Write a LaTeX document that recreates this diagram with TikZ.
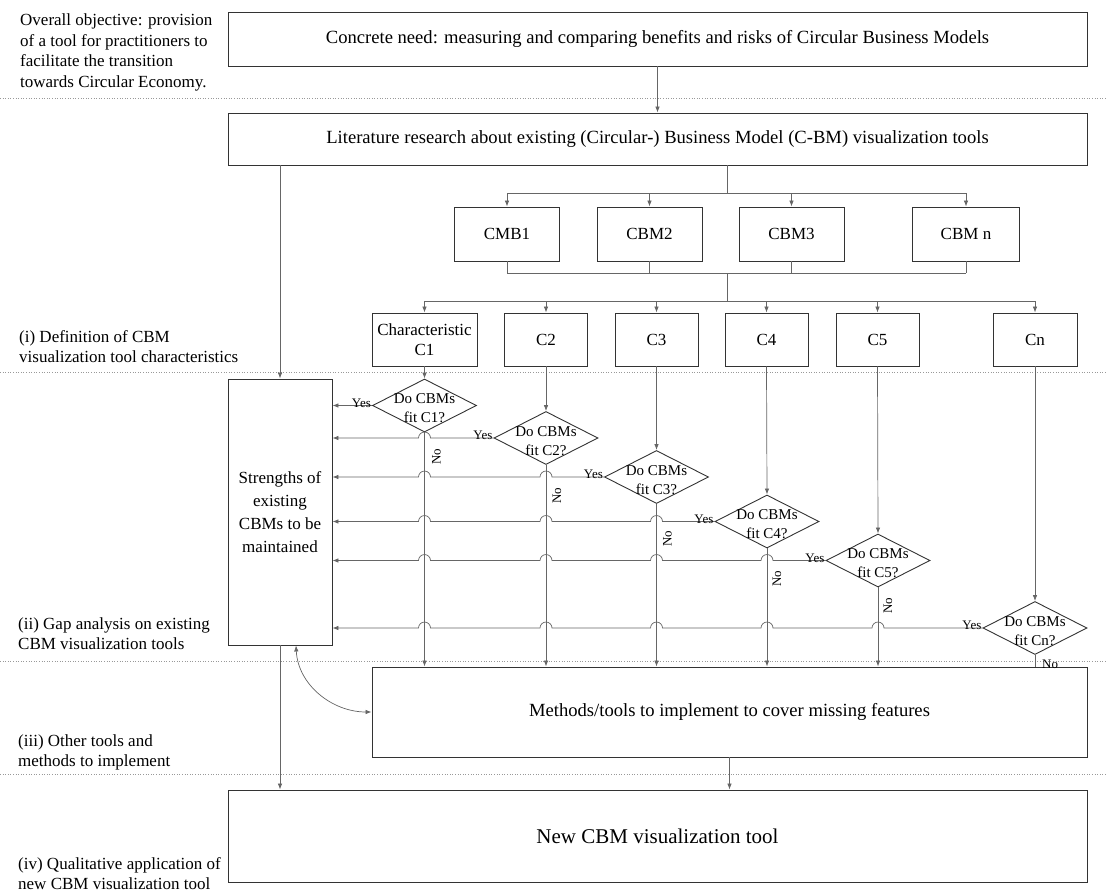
\documentclass[tikz,border=0pt]{standalone}
\usepackage{fontspec}
\setmainfont{Liberation Serif}
\usetikzlibrary{arrows.meta,shapes.geometric,calc}
\begin{document}
\begin{tikzpicture}[x=1pt,y=-1pt,
  box/.style={draw=black!80, line width=0.9pt, rectangle, inner sep=0pt,
    font=\fontsize{17}{20.5}\selectfont, align=center},
  bigtext/.style={font=\fontsize{18.6}{22}\selectfont},
  dia/.style={draw=black!80, line width=0.9pt, diamond, minimum width=104pt,
    minimum height=53pt, inner sep=0pt},
  dtext/.style={font=\fontsize{15}{19}\selectfont, align=center, inner sep=0pt},
  lbl/.style={font=\fontsize{13}{15}\selectfont, inner sep=0pt},
  note/.style={font=\fontsize{17}{20.5}\selectfont, align=left, anchor=north west, inner sep=0pt},
  con/.style={draw=black!60, line width=0.7pt},
  arr/.style={con, -{Latex[length=6pt,width=4.5pt]}},
  sep/.style={draw=black!40, dotted, line width=0.6pt}
]
\useasboundingbox (0,0) rectangle (1106,894);

% separators
\draw[sep] (0,98) -- (1106,98);
\draw[sep] (0,372) -- (1106,372);
\draw[sep] (0,661) -- (1106,661);
\draw[sep] (0,774) -- (1106,774);

% left notes
\node[note] (n0) at (20,14) {Overall objective: provision\\of a tool for practitioners to\\facilitate the transition\\towards Circular Economy.};
\node[note] (n1) at (19,330) {(i) Definition of CBM\\visualization tool characteristics};
\node[note] (n2) at (18,617) {(ii) Gap analysis on existing\\CBM visualization tools};
\node[note] (n3) at (18,734) {(iii) Other tools and\\methods to implement};
\node[note] (n4) at (18,857) {(iv) Qualitative application of\\new CBM visualization tool};

% main boxes
\node[box, bigtext, minimum width=859, minimum height=54] (need) at (657.5,39) {Concrete need: measuring and comparing benefits and risks of Circular Business Models};
\node[box, bigtext, minimum width=859, minimum height=52] (lit) at (657.5,139) {Literature research about existing (Circular-) Business Model (C-BM) visualization tools};

\node[box, minimum width=105, minimum height=54] (cbm1) at (507,234) {CMB1};
\node[box, minimum width=105, minimum height=54] (cbm2) at (649.5,234) {CBM2};
\node[box, minimum width=105, minimum height=54] (cbm3) at (791.5,234) {CBM3};
\node[box, minimum width=107, minimum height=54] (cbmn) at (966,234) {CBM n};

\node[box, minimum width=105, minimum height=53] (c1) at (424.5,339.5) {Characteristic\\C1};
\node[box, minimum width=83, minimum height=53] (c2) at (546,339.5) {C2};
\node[box, minimum width=83, minimum height=53] (c3) at (656.5,339.5) {C3};
\node[box, minimum width=83, minimum height=53] (c4) at (766.5,339.5) {C4};
\node[box, minimum width=83, minimum height=53] (c5) at (877.5,339.5) {C5};
\node[box, minimum width=84, minimum height=53] (cn) at (1035,339.5) {Cn};

\node[box, minimum width=104, minimum height=266, font=\fontsize{17}{23}\selectfont] (s) at (280,512) {Strengths of\\existing\\CBMs to be\\maintained};
\node[box, bigtext, minimum width=715, minimum height=90] (meth) at (729.5,712) {Methods/tools to implement to cover missing features};
\node[box, font=\fontsize{21}{24}\selectfont, minimum width=859, minimum height=92] (new) at (657.5,836) {New CBM visualization tool};

% diamonds
\node[dia] (d1) at (424.5,405.5) {};
\node[dia] (d2) at (546,438) {};
\node[dia] (d3) at (656.5,477) {};
\node[dia] (d4) at (767,521.5) {};
\node[dia] (d5) at (878,560.5) {};
\node[dia] (dn) at (1035,628) {};
\node[dtext] (t1) at ($(d1)+(0,3)$) {Do CBMs\\fit C1?};
\node[dtext] (t2) at ($(d2)+(0,3)$) {Do CBMs\\fit C2?};
\node[dtext] (t3) at ($(d3)+(0,3)$) {Do CBMs\\fit C3?};
\node[dtext] (t4) at ($(d4)+(0,3)$) {Do CBMs\\fit C4?};
\node[dtext] (t5) at ($(d5)+(0,3)$) {Do CBMs\\fit C5?};
\node[dtext] (tn) at ($(dn)+(0,3)$) {Do CBMs\\fit Cn?};

% top connectors
\draw[arr] (need.south) -- (lit.north);
\coordinate (b1) at (727,193);
\coordinate (b2) at (727,273);
\coordinate (b3) at (727,301);
\draw[con] (lit.south -| b1) -- (b1);
\draw[con] (cbm1.north |- b1) -- (cbmn.north |- b1);
\foreach \n in {cbm1,cbm2,cbm3,cbmn} {
  \draw[arr] (\n.north |- b1) -- (\n.north);
  \draw[con] (\n.south) -- (\n.south |- b2);
}
\draw[con] (cbm1.south |- b2) -- (cbmn.south |- b2);
\draw[con] (b2) -- (b3);
\draw[con] (c1.north |- b3) -- (cn.north |- b3);
\foreach \n in {c1,c2,c3,c4,c5,cn} {
  \draw[arr] (\n.north |- b3) -- (\n.north);
}
\draw[arr] (c1.south) -- (d1.north);
\draw[arr] (c2.south) -- (d2.north);
\draw[arr] (c3.south) -- (d3.north);
\draw[arr] (c4.south) -- (d4.north);
\draw[arr] (c5.south) -- (d5.north);
\draw[arr] (cn.south) -- (dn.north);

\draw[arr] (lit.south -| s.north) -- (s.north);

% Yes connectors with line jumps
\draw[arr] (d1.west) -- (d1.west -| s.east);
\draw[arr] (d2.west)
  -- ($(d2.west -| d1.south)+(6,0)$) arc[start angle=0,end angle=180,radius=6pt]
  -- (d2.west -| s.east);
\draw[arr] (d3.west)
  -- ($(d3.west -| d2.south)+(6,0)$) arc[start angle=0,end angle=180,radius=6pt]
  -- ($(d3.west -| d1.south)+(6,0)$) arc[start angle=0,end angle=180,radius=6pt]
  -- (d3.west -| s.east);
\draw[arr] (d4.west)
  -- ($(d4.west -| d3.south)+(6,0)$) arc[start angle=0,end angle=180,radius=6pt]
  -- ($(d4.west -| d2.south)+(6,0)$) arc[start angle=0,end angle=180,radius=6pt]
  -- ($(d4.west -| d1.south)+(6,0)$) arc[start angle=0,end angle=180,radius=6pt]
  -- (d4.west -| s.east);
\draw[arr] (d5.west)
  -- ($(d5.west -| d4.south)+(6,0)$) arc[start angle=0,end angle=180,radius=6pt]
  -- ($(d5.west -| d3.south)+(6,0)$) arc[start angle=0,end angle=180,radius=6pt]
  -- ($(d5.west -| d2.south)+(6,0)$) arc[start angle=0,end angle=180,radius=6pt]
  -- ($(d5.west -| d1.south)+(6,0)$) arc[start angle=0,end angle=180,radius=6pt]
  -- (d5.west -| s.east);
\draw[arr] (dn.west)
  -- ($(dn.west -| d5.south)+(6,0)$) arc[start angle=0,end angle=180,radius=6pt]
  -- ($(dn.west -| d4.south)+(6,0)$) arc[start angle=0,end angle=180,radius=6pt]
  -- ($(dn.west -| d3.south)+(6,0)$) arc[start angle=0,end angle=180,radius=6pt]
  -- ($(dn.west -| d2.south)+(6,0)$) arc[start angle=0,end angle=180,radius=6pt]
  -- ($(dn.west -| d1.south)+(6,0)$) arc[start angle=0,end angle=180,radius=6pt]
  -- (dn.west -| s.east);
\foreach \d in {d1,d2,d3,d4,d5,dn} {
  \node[lbl, anchor=base east] at ($(\d.west)+(-1,1.5)$) {Yes};
}

% No connectors
\draw[arr] (d1.south) -- (d1.south |- meth.north);
\draw[arr] (d2.south) -- (d2.south |- meth.north);
\draw[arr] (d3.south) -- (d3.south |- meth.north);
\draw[arr] (d4.south) -- (d4.south |- meth.north);
\draw[arr] (d5.south) -- (d5.south |- meth.north);
\draw[con] (dn.south) -- (dn.south |- meth.north);
\node[lbl, rotate=90] at ($(d1.south)+(12,24)$) {No};
\node[lbl, rotate=90] at ($(d2.south)+(11,31)$) {No};
\node[lbl, rotate=90] at ($(d3.south)+(11,35)$) {No};
\node[lbl, rotate=90] at ($(d4.south)+(10,30)$) {No};
\node[lbl, rotate=90] at ($(d5.south)+(10,18)$) {No};
\node[lbl, anchor=west] at ($(dn.south)+(7,9)$) {No};

% bottom connectors
\draw[arr] (s.south) -- (s.south |- new.north);
\draw[con, {Latex[length=6pt,width=4.5pt]}-{Latex[length=6pt,width=4.5pt]}]
  ($(s.south)+(16,0)$) to[out=-87,in=180] (meth.west);
\draw[arr] (meth.south) -- (meth.south |- new.north);
\end{tikzpicture}
\end{document}
